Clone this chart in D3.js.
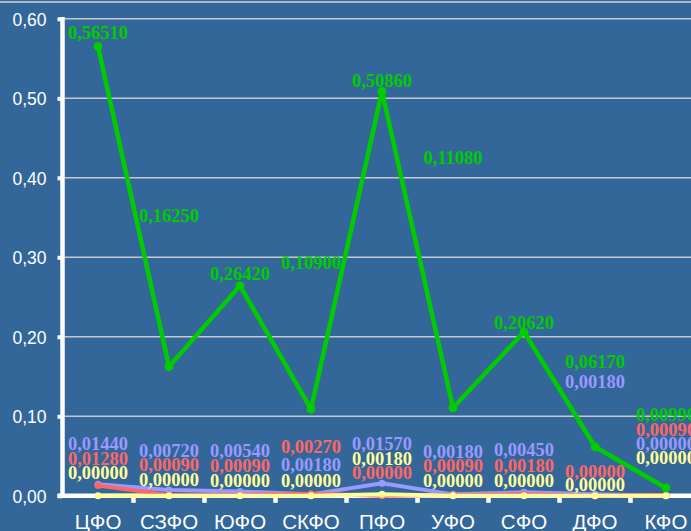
<!DOCTYPE html>
<html>
<head>
<meta charset="utf-8">
<script src="https://cdn.jsdelivr.net/npm/d3@7"></script>
<style>
  html, body { margin: 0; padding: 0; background: #336699; }
  svg { display: block; }
</style>
</head>
<body>
<svg id="chart" width="691" height="531"></svg>
<script>
// ---- data ----
const categories = ["ЦФО", "СЗФО", "ЮФО", "СКФО", "ПФО", "УФО", "СФО", "ДФО", "КФО"];
const greenValues  = [0.5651, 0.1625, 0.2642, 0.1090, 0.5086, 0.1108, 0.2062, 0.0617, 0.0099];
const blueValues   = [0.0144, 0.0072, 0.0054, 0.0018, 0.0157, 0.0018, 0.0045, 0.0018, 0.0000];
const redValues    = [0.0128, 0.0009, 0.0009, 0.0027, 0.0000, 0.0009, 0.0018, 0.0000, 0.0009];
const yellowValues = [0.0000, 0.0000, 0.0000, 0.0000, 0.0018, 0.0000, 0.0000, 0.0000, 0.0000];
const yTickValues  = [0, 0.1, 0.2, 0.3, 0.4, 0.5, 0.6];

// ---- layout (label offsets in px relative to the point) ----
const greenLabelDy  = [-14, -151, -12, -147, -11, -250, -9, -85, -73];
const blueLabelDy   = [-41, -40, -41, -30, -40, -43, -43, -113, -52];
const redLabelDy    = [-27, -31, -30, -47, -23, -30, -29, -24, -66];
const yellowLabelDy = [-23, -16, -15, -15, -36, -15, -15, -11, -38];

(function () {
const W = 691, H = 531;
const plotLeft = 62.5, step = 71, plotTop = 18.8, plotBottom = 495.8;
const svg = d3.select("#chart");

svg.append("rect").attr("width", W).attr("height", H).attr("fill", "#336699");
svg.append("line").attr("x1", 0).attr("x2", W).attr("y1", 2).attr("y2", 2)
  .attr("stroke", "#AEB8C6").attr("stroke-width", 2);

const x = d3.scaleBand().domain(categories).range([plotLeft, plotLeft + step * categories.length]).padding(0);
const y = d3.scaleLinear().domain([0, 0.6]).range([plotBottom, plotTop]);
const cx = c => x(c) + x.bandwidth() / 2;
const fmt = v => d3.format(".5f")(v).replace(".", ",");

// gridlines
svg.append("g").selectAll("line").data(yTickValues.filter(v => v > 0)).join("line")
  .attr("x1", plotLeft + 2).attr("x2", W)
  .attr("y1", d => y(d)).attr("y2", d => y(d))
  .attr("stroke", "#C4C8CE").attr("stroke-width", 1.5);

// y axis
const yAxis = d3.axisLeft(y).tickValues(yTickValues).tickSize(5).tickPadding(11)
  .tickFormat(d => d3.format(".2f")(d).replace(".", ","));
const gy = svg.append("g").attr("transform", `translate(${plotLeft},0)`).call(yAxis);
gy.select(".domain").remove();
gy.selectAll(".tick line").attr("stroke", "#fff").attr("stroke-width", 4);
gy.selectAll(".tick text").attr("fill", "#fff").attr("font-family", "Liberation Sans, Arial, sans-serif")
  .attr("font-size", 17.5).attr("dy", "0.36em");
svg.append("line").attr("x1", plotLeft).attr("x2", plotLeft).attr("y1", 17).attr("y2", plotBottom + 2)
  .attr("stroke", "#fff").attr("stroke-width", 4.5);

// x axis
const xAxis = d3.axisBottom(x).tickSize(0).tickPadding(19);
const gx = svg.append("g").attr("transform", `translate(0,${plotBottom})`).call(xAxis);
gx.select(".domain").remove();
gx.selectAll(".tick text").attr("fill", "#fff").attr("font-family", "Liberation Sans, Arial, sans-serif")
  .attr("font-size", 20.5);
svg.append("line").attr("x1", plotLeft - 5).attr("x2", W).attr("y1", plotBottom).attr("y2", plotBottom)
  .attr("stroke", "#fff").attr("stroke-width", 4.5);
svg.append("g").selectAll("line").data(categories.slice(1)).join("line")
  .attr("x1", d => x(d)).attr("x2", d => x(d))
  .attr("y1", plotBottom).attr("y2", plotBottom + 7)
  .attr("stroke", "#fff").attr("stroke-width", 4.5);

// series
const series = [
  { values: blueValues,   color: "#9999FF", dy: blueLabelDy,   w: 4, r: 3.5 },
  { values: redValues,    color: "#FF6666", dy: redLabelDy,    w: 4, r: 3.5 },
  { values: yellowValues, color: "#FFFF99", dy: yellowLabelDy, w: 4, r: 3.5 },
  { values: greenValues,  color: "#00CC00", dy: greenLabelDy,  w: 4.5, r: 4.5 }
];
const line = d3.line().x((d, i) => cx(categories[i])).y(d => y(d));

series.forEach(s => {
  const g = svg.append("g");
  g.append("path").datum(s.values).attr("d", line).attr("fill", "none")
    .attr("stroke", s.color).attr("stroke-width", s.w).attr("stroke-linejoin", "round");
  g.selectAll("circle").data(s.values).join("circle")
    .attr("cx", (d, i) => cx(categories[i])).attr("cy", d => y(d)).attr("r", s.r)
    .attr("fill", s.color);
});

// labels (drawn on top)
series.forEach(s => {
  svg.append("g").selectAll("text").data(s.values).join("text")
    .attr("x", (d, i) => cx(categories[i]))
    .attr("y", (d, i) => y(d) + s.dy[i])
    .attr("dy", "0.35em")
    .attr("text-anchor", "middle")
    .attr("font-family", "Liberation Serif, Times New Roman, serif")
    .attr("font-weight", "bold").attr("font-size", 18.5)
    .attr("fill", s.color)
    .text(d => fmt(d));
});
})();
</script>
</body>
</html>
